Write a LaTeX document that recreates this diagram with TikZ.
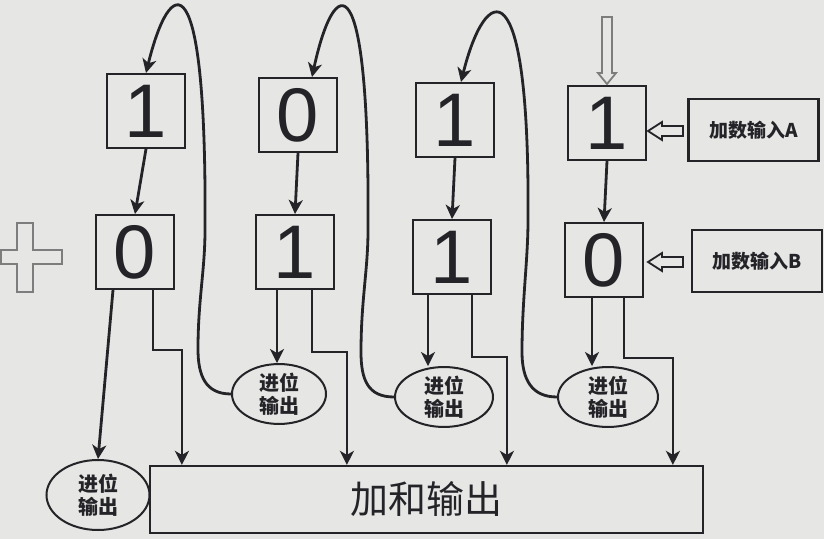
\documentclass[tikz,border=0pt]{standalone}
\usepackage{fontspec}
\setmainfont{Liberation Sans}
\newfontfamily\cjk{Noto Sans CJK SC}
\usetikzlibrary{positioning,arrows.meta,shapes.geometric,calc}
\definecolor{ink}{RGB}{35,35,40}
\definecolor{paper}{RGB}{230,230,228}
\definecolor{pale}{RGB}{125,125,125}

\begin{document}
\begin{tikzpicture}[
    x=0.5pt, y=-0.5pt,
    color=ink,
    >={Stealth[length=7pt,width=7pt,inset=2pt]},
    bit/.style={draw, line width=1pt, minimum width=39pt, minimum height=37pt, inner sep=0pt, font=\fontsize{38}{40}\selectfont},
    carry/.style={draw, ellipse, line width=1pt, inner sep=0pt, align=center, font=\cjk\bfseries\fontsize{10}{11.5}\selectfont},
    inbox/.style={draw, line width=1.1pt, minimum width=65pt, minimum height=31pt, font=\cjk\bfseries\fontsize{9.5}{11}\selectfont},
    wire/.style={->, line width=1.4pt},
    hollow/.style={line width=0.9pt, fill=paper, line join=miter}
  ]
  \fill[paper] (0,0) rectangle (824,539);
  \useasboundingbox (0,0) rectangle (824,539);

  % plus sign
  \draw[hollow, draw=pale] (17,223) -- (33,223) -- (33,250) -- (62,250) -- (62,264) -- (33,264)
    -- (33,292) -- (17,292) -- (17,264) -- (1,264) -- (1,250) -- (17,250) -- cycle;

  % addend A (top row) and addend B (second row)
  \node[bit] (a1) at (146,111) {1};
  \node[bit] (a2) at (298,115) {0};
  \node[bit] (a3) at (455,120) {1};
  \node[bit] (a4) at (607,123) {1};
  \node[bit] (b1) at (135,252) {0};
  \node[bit] (b2) at (295,252) {1};
  \node[bit] (b3) at (452,257) {1};
  \node[bit] (b4) at (604,260) {0};

  \node[inbox] (ina) at (753.5,130) {加数输入A};
  \node[inbox] (inb) at (757,261) {加数输入B};

  % carry ellipses and sum
  \node[carry, minimum width=51.5pt, minimum height=35pt] (c0) at (98,495) {进位\\输出};
  \node[carry, minimum width=47pt, minimum height=26pt] (e1) at (279,394) {进位\\输出};
  \node[carry, minimum width=49pt, minimum height=25pt] (e2) at (444,397) {进位\\输出};
  \node[carry, minimum width=50pt, minimum height=25pt] (e3) at (608,397) {进位\\输出};
  \node[draw, line width=1.1pt, minimum width=276.5pt, minimum height=33.5pt,
        font=\cjk\fontsize{19}{21}\selectfont] (sum) at (426.5,499.5) {加和输出};

  % hollow input arrows
  \draw[hollow, draw=pale] (607,84) -- (598,73) -- (602,73) -- (602,17) -- (612,17) -- (612,73) -- (616,73) -- cycle;
  \draw[hollow] (648,131) -- (662,122) -- (662,126) -- (683,126) -- (683,136) -- (662,136) -- (662,140) -- cycle;
  \draw[hollow] (648,262) -- (662,253) -- (662,257) -- (683,257) -- (683,267) -- (662,267) -- (662,271) -- cycle;

  % A down to B
  \draw[wire] (a1.south) -- (b1.north);
  \draw[wire] (a2.south) -- (b2.north);
  \draw[wire] (a3.south) -- (b3.north);
  \draw[wire] (a4.south) -- (b4.north);

  % carry outputs
  \coordinate (b1l) at ([xshift=-11pt]b1.south);
  \coordinate (b2l) at ([xshift=-9pt]b2.south);
  \coordinate (b3l) at ([xshift=-12pt]b3.south);
  \coordinate (b4l) at ([xshift=-6pt]b4.south);
  \draw[wire] (b1l) -- (c0.north);
  \draw[wire] (b2l) -- (b2l |- e1.north);
  \draw[wire] (b3l) -- (b3l |- e2.north);
  \draw[wire] (b4l) -- (b4l |- e3.north);

  % sum outputs
  \draw[wire] ([xshift=9pt]b1.south) -- ++(0,60) -| ([xshift=16.5pt]sum.north west);
  \draw[wire] ([xshift=8.5pt]b2.south) -- ++(0,62) -| ([xshift=99pt]sum.north west);
  \draw[wire] ([xshift=10pt]b3.south) -- ++(0,62) -| ([xshift=179pt]sum.north west);
  \draw[wire] ([xshift=10pt]b4.south) -- ++(0,60) -| ([xshift=262pt]sum.north west);

  % carry loops back to the next bit
  \coordinate (t2) at ([xshift=7pt]a2.north);
  \coordinate (t3) at ([xshift=3pt]a3.north);
  \draw[wire] (e1.west) .. controls (205,394) and (198,375) .. (198,349)
    .. controls (198,300) and (205,270) .. (205,230)
    .. controls (207,-45) and (170,-25) .. (a1.north);
  \draw[wire] (e2.west) .. controls (368,397) and (361,380) .. (361,352)
    .. controls (361,300) and (368,270) .. (368,230)
    .. controls (370,-45) and (334,-25) .. (t2);
  \draw[wire] (e3.west) .. controls (532,397) and (522,380) .. (522,352)
    .. controls (522,300) and (528,260) .. (528,220)
    .. controls (530,-40) and (485,-15) .. (t3);
\end{tikzpicture}
\end{document}
